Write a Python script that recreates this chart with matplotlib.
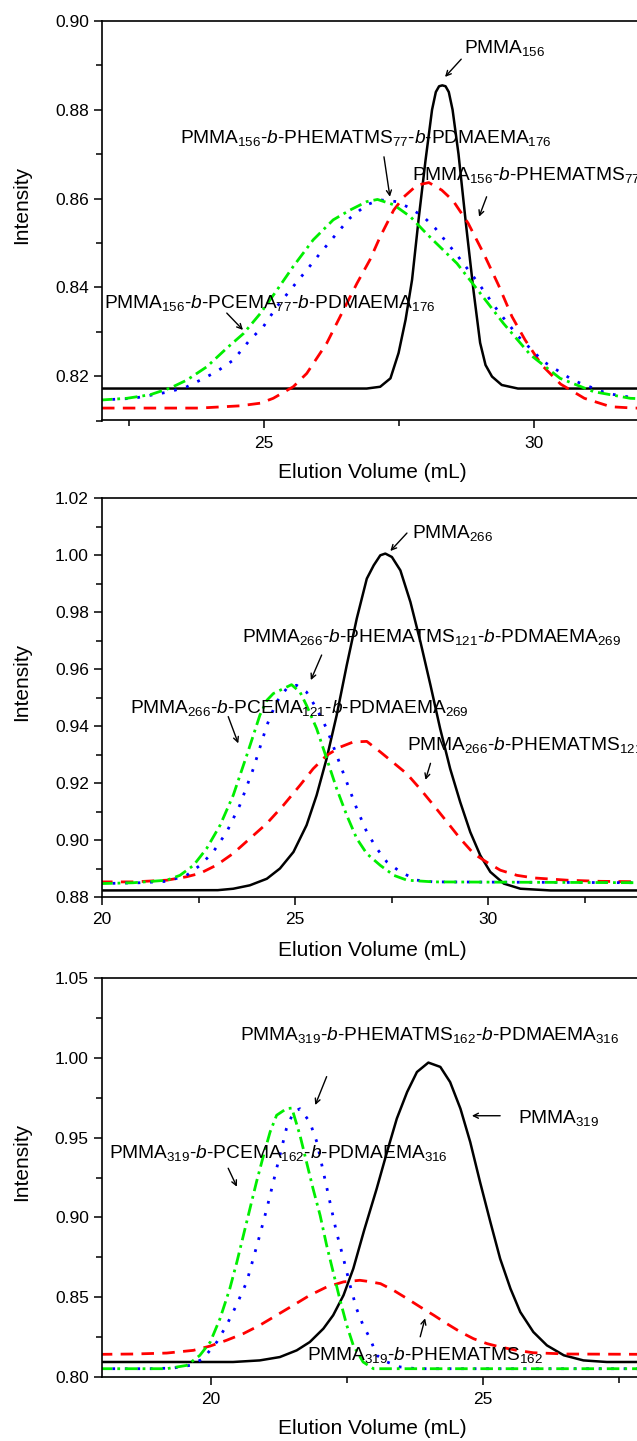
import matplotlib
matplotlib.use("Agg")
import matplotlib.pyplot as plt
from matplotlib.ticker import MultipleLocator, FormatStrFormatter

plt.rcParams['font.family'] = ['Liberation Sans', 'DejaVu Sans']
plt.rcParams['mathtext.fontset'] = 'custom'
plt.rcParams['mathtext.rm'] = 'Liberation Sans'
plt.rcParams['mathtext.it'] = 'Liberation Sans:italic'
plt.rcParams['mathtext.default'] = 'regular'

# ---------------- Panel 1 data ----------------
p1_black_x = [22.0, 26.90, 27.15, 27.34, 27.49, 27.62, 27.74, 27.86, 27.99, 28.11, 28.18, 28.24, 28.30,
              28.36, 28.42, 28.49, 28.60, 28.74, 28.88, 29.00, 29.10, 29.22, 29.40, 29.70, 32.2]
p1_black_y = [0.8172, 0.8172, 0.8176, 0.8195, 0.8252, 0.8327, 0.8417, 0.8552, 0.8687, 0.8800, 0.8840, 0.8853, 0.8855,
              0.8853, 0.8840, 0.8800, 0.8700, 0.8540, 0.8390, 0.8275, 0.8225, 0.8199, 0.8180, 0.8172, 0.8172]
p1_red_x = [22.0, 23.8, 24.55, 24.93, 25.17, 25.54, 25.79, 26.16, 26.47, 26.72, 26.96, 27.15, 27.40, 27.59, 27.83,
            28.05, 28.29, 28.50, 28.78, 29.07, 29.34, 29.59, 29.83, 30.14, 30.49, 30.93, 31.42, 31.84, 32.2]
p1_red_y = [0.8128, 0.8128, 0.8133, 0.8139, 0.8150, 0.8176, 0.8206, 0.8274, 0.8349, 0.8409, 0.8462, 0.8514, 0.8574, 0.8604, 0.8630,
            0.8636, 0.8619, 0.8595, 0.8544, 0.8475, 0.8405, 0.8334, 0.8282, 0.8225, 0.8182, 0.8150, 0.8131, 0.8128, 0.8128]
p1_blue_x = [21.96, 22.58, 22.95, 23.26, 23.57, 23.82, 24.12, 24.43, 24.74, 24.99, 25.24, 25.54, 25.79, 26.04, 26.35,
             26.59, 26.90, 27.15, 27.46, 27.71, 27.96, 28.17, 28.57, 28.97, 29.34, 29.71, 30.17, 30.73, 31.35, 31.90, 32.2]
p1_blue_y = [0.8146, 0.8150, 0.8158, 0.8165, 0.8176, 0.8191, 0.8210, 0.8236, 0.8282, 0.8312, 0.8357, 0.8402, 0.8439, 0.8477, 0.8522,
             0.8556, 0.8586, 0.8597, 0.8593, 0.8578, 0.8558, 0.8533, 0.8473, 0.8409, 0.8345, 0.8289, 0.8233, 0.8190, 0.8161, 0.8150, 0.8148]
p1_green_x = [21.96, 22.46, 22.89, 23.26, 23.57, 23.94, 24.31, 24.62, 24.93, 25.24, 25.54, 25.91, 26.28, 26.59, 26.90,
              27.10, 27.40, 27.71, 27.96, 28.14, 28.57, 29.00, 29.43, 29.93, 30.48, 31.10, 31.78, 32.2]
p1_green_y = [0.8146, 0.8150, 0.8158, 0.8173, 0.8191, 0.8221, 0.8263, 0.8296, 0.8341, 0.8394, 0.8447, 0.8507, 0.8552, 0.8574, 0.8593,
              0.8598, 0.8586, 0.8559, 0.8527, 0.8505, 0.8454, 0.8387, 0.8319, 0.8248, 0.8195, 0.8165, 0.8150, 0.8148]

# ---------------- Panel 2 data ----------------
p2_black_x = [20.0, 23.00, 23.40, 23.83, 24.27, 24.61, 24.96, 25.30, 25.56, 25.82, 26.08, 26.34, 26.60, 26.86,
              27.04, 27.21, 27.34, 27.51, 27.73, 27.99, 28.25, 28.51, 28.76, 29.02, 29.28, 29.54, 29.80,
              30.06, 30.41, 30.84, 31.62, 34.2]
p2_black_y = [0.8823, 0.8824, 0.8829, 0.8841, 0.8864, 0.8900, 0.8958, 0.9052, 0.9157, 0.9286, 0.9438, 0.9613, 0.9777, 0.9917,
              0.9964, 0.9999, 1.0005, 0.9993, 0.9946, 0.9835, 0.9695, 0.9543, 0.9391, 0.9250, 0.9133, 0.9028, 0.8946,
              0.8888, 0.8847, 0.8829, 0.8823, 0.8823]
p2_red_x = [19.95, 20.81, 21.68, 22.19, 22.54, 22.97, 23.40, 23.83, 24.27, 24.70, 25.13, 25.47, 25.82, 26.17, 26.51,
            26.86, 27.21, 27.56, 27.90, 28.25, 28.59, 28.94, 29.28, 29.63, 29.97, 30.32, 30.75, 31.18, 32.05, 32.91, 34.2]
p2_red_y = [0.8853, 0.8853, 0.8859, 0.8871, 0.8883, 0.8912, 0.8953, 0.9005, 0.9058, 0.9122, 0.9192, 0.9250, 0.9297, 0.9326, 0.9344,
            0.9346, 0.9309, 0.9270, 0.9232, 0.9178, 0.9122, 0.9063, 0.9005, 0.8952, 0.8922, 0.8894, 0.8876, 0.8867, 0.8859, 0.8855, 0.8853]
p2_blue_x = [19.95, 20.98, 21.68, 22.19, 22.54, 22.88, 23.23, 23.57, 23.92, 24.27, 24.52, 24.78, 25.04, 25.30, 25.56,
             25.82, 26.08, 26.34, 26.60, 26.86, 27.12, 27.38, 27.73, 28.16, 28.59, 34.2]
p2_blue_y = [0.8847, 0.8850, 0.8855, 0.8876, 0.8911, 0.8958, 0.9028, 0.9122, 0.9250, 0.9402, 0.9484, 0.9531, 0.9543, 0.9519, 0.9461,
             0.9391, 0.9297, 0.9203, 0.9110, 0.9028, 0.8970, 0.8923, 0.8888, 0.8859, 0.8853, 0.8850]
p2_green_x = [19.95, 20.81, 21.68, 22.02, 22.37, 22.71, 23.06, 23.40, 23.75, 23.92, 24.09, 24.27, 24.44, 24.91, 25.13,
              25.30, 25.56, 25.82, 26.08, 26.34, 26.60, 26.86, 27.21, 27.56, 27.90, 28.59, 34.2]
p2_green_y = [0.8847, 0.8850, 0.8859, 0.8876, 0.8911, 0.8970, 0.9052, 0.9157, 0.9297, 0.9367, 0.9438, 0.9490, 0.9514, 0.9545, 0.9519,
              0.9472, 0.9391, 0.9286, 0.9180, 0.9087, 0.9005, 0.8952, 0.8911, 0.8876, 0.8859, 0.8853, 0.8850]

# ---------------- Panel 3 data ----------------
p3_black_x = [18.0, 20.41, 20.90, 21.27, 21.58, 21.82, 22.07, 22.25, 22.44, 22.62, 22.82, 23.05, 23.24, 23.42,
              23.61, 23.79, 24.00, 24.22, 24.40, 24.59, 24.77, 24.95, 25.14, 25.32, 25.51, 25.69, 25.93, 26.18,
              26.49, 26.85, 27.28, 28.1]
p3_black_y = [0.8094, 0.8094, 0.8104, 0.8125, 0.8167, 0.8219, 0.8303, 0.8387, 0.8512, 0.8679, 0.8920, 0.9180, 0.9410, 0.9619,
              0.9786, 0.9911, 0.9970, 0.9943, 0.9848, 0.9681, 0.9472, 0.9222, 0.8971, 0.8741, 0.8553, 0.8407, 0.8282, 0.8198,
              0.8136, 0.8104, 0.8094, 0.8094]
p3_red_x = [17.96, 18.58, 19.19, 19.68, 19.99, 20.29, 20.60, 20.90, 21.21, 21.52, 21.82, 22.13, 22.44, 22.74, 22.87,
            23.12, 23.36, 23.61, 23.85, 24.10, 24.34, 24.59, 24.83, 25.08, 25.32, 25.63, 25.93, 26.55, 28.1]
p3_red_y = [0.8142, 0.8144, 0.8150, 0.8167, 0.8194, 0.8230, 0.8272, 0.8324, 0.8387, 0.8450, 0.8512, 0.8564, 0.8596, 0.8606, 0.8600,
            0.8585, 0.8543, 0.8491, 0.8439, 0.8387, 0.8334, 0.8282, 0.8240, 0.8209, 0.8188, 0.8167, 0.8152, 0.8144, 0.8142]
p3_blue_x = [17.96, 18.88, 19.31, 19.62, 19.86, 20.11, 20.29, 20.47, 20.66, 20.78, 20.90, 21.03, 21.15, 21.27, 21.39,
             21.52, 21.64, 21.82, 21.95, 22.07, 22.19, 22.31, 22.44, 22.56, 22.68, 22.80, 22.93, 23.05, 23.24,
             23.48, 23.79, 28.1]
p3_blue_y = [0.8052, 0.8052, 0.8056, 0.8073, 0.8115, 0.8219, 0.8324, 0.8449, 0.8595, 0.8741, 0.8888, 0.9055, 0.9222, 0.9389, 0.9556,
             0.9660, 0.9681, 0.9598, 0.9472, 0.9284, 0.9097, 0.8909, 0.8741, 0.8575, 0.8428, 0.8324, 0.8240, 0.8136, 0.8094,
             0.8063, 0.8052, 0.8052]
p3_green_x = [17.96, 19.19, 19.56, 19.80, 19.99, 20.17, 20.35, 20.48, 20.60, 20.72, 20.84, 20.97, 21.09, 21.21, 21.39,
              21.49, 21.64, 21.76, 21.88, 22.01, 22.13, 22.25, 22.37, 22.50, 22.62, 22.80, 22.99, 28.1]
p3_green_y = [0.8052, 0.8052, 0.8073, 0.8136, 0.8219, 0.8366, 0.8554, 0.8721, 0.8888, 0.9055, 0.9222, 0.9389, 0.9535, 0.9640, 0.9681,
              0.9685, 0.9514, 0.9347, 0.9180, 0.9013, 0.8825, 0.8658, 0.8491, 0.8324, 0.8198, 0.8094, 0.8052, 0.8052]

# ---------------- Labels ----------------
p1_labels = [r'PMMA$_{156}$',
             r'PMMA$_{156}$-$\mathit{b}$-PHEMATMS$_{77}$-$\mathit{b}$-PDMAEMA$_{176}$',
             r'PMMA$_{156}$-$\mathit{b}$-PHEMATMS$_{77}$',
             r'PMMA$_{156}$-$\mathit{b}$-PCEMA$_{77}$-$\mathit{b}$-PDMAEMA$_{176}$']
p2_labels = [r'PMMA$_{266}$',
             r'PMMA$_{266}$-$\mathit{b}$-PHEMATMS$_{121}$-$\mathit{b}$-PDMAEMA$_{269}$',
             r'PMMA$_{266}$-$\mathit{b}$-PCEMA$_{121}$-$\mathit{b}$-PDMAEMA$_{269}$',
             r'PMMA$_{266}$-$\mathit{b}$-PHEMATMS$_{121}$']
p3_labels = [r'PMMA$_{319}$-$\mathit{b}$-PHEMATMS$_{162}$-$\mathit{b}$-PDMAEMA$_{316}$',
             r'PMMA$_{319}$',
             r'PMMA$_{319}$-$\mathit{b}$-PCEMA$_{162}$-$\mathit{b}$-PDMAEMA$_{316}$',
             r'PMMA$_{319}$-$\mathit{b}$-PHEMATMS$_{162}$']

# text anchor (x, y) and arrow (tail, head) in data coords
p1_text_pos = [(28.70, 0.8927), (23.44, 0.8725), (27.74, 0.8642), (22.04, 0.8354)]
p1_arrows = [((28.65, 0.8914), (28.35, 0.8874)), ((27.22, 0.8694), (27.33, 0.8604)),
             ((29.12, 0.8604), (28.98, 0.8559)), ((24.31, 0.8342), (24.61, 0.8304))]
p2_text_pos = [(28.03, 1.0059), (23.62, 0.9696), (20.73, 0.9445), (27.90, 0.9316)]
p2_arrows = [((27.90, 1.0077), (27.47, 1.0014)), ((25.69, 0.9649), (25.41, 0.9561)),
             ((23.27, 0.9433), (23.53, 0.9339)), ((28.51, 0.9269), (28.38, 0.9211))]
p3_text_pos = [(20.54, 1.0112), (25.64, 0.9591), (18.13, 0.9370), (21.76, 0.8107)]
p3_arrows = [((22.13, 0.9882), (21.92, 0.9704)), ((25.32, 0.9637), (24.80, 0.9637)),
             ((20.32, 0.9308), (20.48, 0.9192)), ((23.85, 0.8252), (23.94, 0.8368))]

W, H = 637, 1441
fig = plt.figure(figsize=(W / 100, H / 100), dpi=100)

panels = [
    dict(top=21, bottom=420.5, xlim=(22, 32.14), ylim=(0.81, 0.90), ymaj=0.02, ymin=0.01,
         curves=[(p1_black_x, p1_black_y), (p1_red_x, p1_red_y), (p1_blue_x, p1_blue_y), (p1_green_x, p1_green_y)],
         labels=p1_labels, tpos=p1_text_pos, arrows=p1_arrows, xl_y=473, yl_y=205),
    dict(top=498, bottom=897, xlim=(20, 34.19), ylim=(0.88, 1.02), ymaj=0.02, ymin=0.01,
         curves=[(p2_black_x, p2_black_y), (p2_red_x, p2_red_y), (p2_blue_x, p2_blue_y), (p2_green_x, p2_green_y)],
         labels=p2_labels, tpos=p2_text_pos, arrows=p2_arrows, xl_y=950, yl_y=682),
    dict(top=978, bottom=1377, xlim=(18, 28.07), ylim=(0.80, 1.05), ymaj=0.05, ymin=0.025,
         curves=[(p3_black_x, p3_black_y), (p3_red_x, p3_red_y), (p3_blue_x, p3_blue_y), (p3_green_x, p3_green_y)],
         labels=p3_labels, tpos=p3_text_pos, arrows=p3_arrows, xl_y=1429, yl_y=1162),
]

styles = [
    dict(color='black', lw=1.8, ls='-'),
    dict(color='#ff0000', lw=2.0, dashes=(4.5, 3.0)),
    dict(color='#0000ff', lw=2.0, dashes=(1.0, 3.5)),
    dict(color='#00ee00', lw=2.0, dashes=(4.5, 1.8, 1.0, 1.8)),
]

left_px = 102
for p in panels:
    ax = fig.add_axes([left_px / W, 1 - p['bottom'] / H, 1.02 - left_px / W, (p['bottom'] - p['top']) / H])
    for (xs, ys), st in zip(p['curves'], styles):
        st = dict(st)
        if 'dashes' in st:
            d = st.pop('dashes')
            ax.plot(xs, ys, dashes=d, dash_capstyle='butt', solid_joinstyle='round', **st)
        else:
            ax.plot(xs, ys, solid_joinstyle='round', **st)
    ax.set_xlim(*p['xlim'])
    ax.set_ylim(*p['ylim'])
    ax.xaxis.set_major_locator(MultipleLocator(5))
    ax.xaxis.set_minor_locator(MultipleLocator(2.5))
    ax.yaxis.set_major_locator(MultipleLocator(p['ymaj']))
    ax.yaxis.set_minor_locator(MultipleLocator(p['ymin']))
    ax.yaxis.set_major_formatter(FormatStrFormatter('%.2f'))
    ax.xaxis.set_major_formatter(FormatStrFormatter('%d'))
    ax.tick_params(which='major', direction='out', length=6, width=1.1, labelsize=12.5, top=False, right=False)
    ax.tick_params(which='minor', direction='out', length=4, width=1.1, top=False, right=False)
    ax.tick_params(axis='x', which='major', pad=5)
    ax.tick_params(axis='y', which='major', pad=3.5)
    for s in ax.spines.values():
        s.set_linewidth(1.2)
    for lab, (tx, ty), ((ax0, ay0), (ax1, ay1)) in zip(p['labels'], p['tpos'], p['arrows']):
        ax.text(tx, ty, lab, fontsize=13.8, ha='left', va='baseline', zorder=5)
        ax.annotate('', xy=(ax1, ay1), xytext=(ax0, ay0),
                    arrowprops=dict(arrowstyle='->', lw=1.0, color='black', shrinkA=0, shrinkB=0,
                                    mutation_scale=9), zorder=5)
    fig.text(372.7 / W, 1 - p['xl_y'] / H, 'Elution Volume (mL)', fontsize=15, ha='center', va='center')
    fig.text(22 / W, 1 - p['yl_y'] / H, 'Intensity', fontsize=15, ha='center', va='center', rotation=90)

fig.savefig('out.png', dpi=100)
